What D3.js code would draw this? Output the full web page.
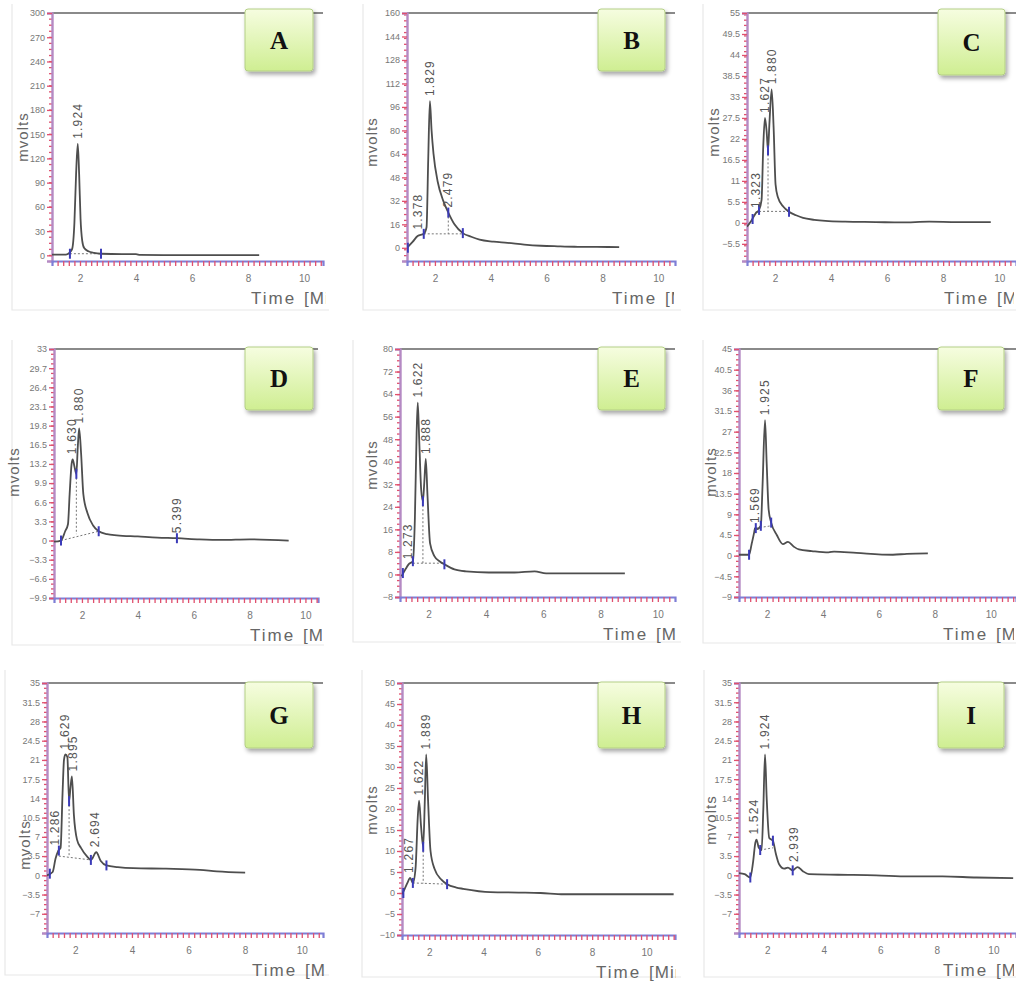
<!DOCTYPE html>
<html>
<head>
<meta charset="utf-8">
<script src="https://cdn.jsdelivr.net/npm/d3@7"></script>
<style>
  body { margin: 0; background: #fff; }
  svg { display: block; }
  .tick text { font-family: "Liberation Sans Narrow", "Liberation Sans", Arial, sans-serif; fill: #777; }
  .ylab { font-family: "Liberation Sans", Arial, sans-serif; fill: #666; }
  .peak-label { font-family: "Liberation Sans Narrow", "Liberation Sans", Arial, sans-serif; fill: #555; }
  .letter { font-family: "Liberation Serif", "DejaVu Serif", serif; font-weight: bold; fill: #111; }
</style>
</head>
<body>
<div id="chart"></div>
<script>
// Nine HPLC chromatograms (A-I), mvolts vs time

const panelNames = ["A", "B", "C", "D", "E", "F", "G", "H", "I"];

// y tick labels of each panel
const yTicksA = [0, 30, 60, 90, 120, 150, 180, 210, 240, 270, 300];
const yTicksB = [0, 16, 32, 48, 64, 80, 96, 112, 128, 144, 160];
const yTicksC = [-5.5, 0, 5.5, 11, 16.5, 22, 27.5, 33, 38.5, 44, 49.5, 55];
const yTicksD = [-9.9, -6.6, -3.3, 0, 3.3, 6.6, 9.9, 13.2, 16.5, 19.8, 23.1, 26.4, 29.7, 33];
const yTicksE = [-8, 0, 8, 16, 24, 32, 40, 48, 56, 64, 72, 80];
const yTicksF = [-9, -4.5, 0, 4.5, 9, 13.5, 18, 22.5, 27, 31.5, 36, 40.5, 45];
const yTicksG = [-7, -3.5, 0, 3.5, 7, 10.5, 14, 17.5, 21, 24.5, 28, 31.5, 35];
const yTicksH = [-10, -5, 0, 5, 10, 15, 20, 25, 30, 35, 40, 45, 50];
const yTicksI = [-7, -3.5, 0, 3.5, 7, 10.5, 14, 17.5, 21, 24.5, 28, 31.5, 35];
const xTicks = [2, 4, 6, 8, 10];

// y ranges (min, max) in mvolts
const yRanges = [[-7, 300], [-9, 160], [-10, 55], [-9.9, 33], [-8, 80], [-9, 45], [-10.5, 35], [-10, 50], [-10.5, 35]];

// traces: [time (min), mvolts]
const traceA = [[1.0, 1], [1.5, 1], [1.62, 3], [1.72, 8], [1.8, 40], [1.86, 100], [1.92, 138], [1.97, 100], [2.02, 45], [2.08, 18], [2.15, 9], [2.3, 5], [2.5, 3], [2.75, 2], [3.5, 1.5], [4.0, 1.5], [4.15, 0.5], [5.0, 0.3], [8.4, 0.3]];
const traceB = [[1.0, 0], [1.2, 4], [1.38, 8], [1.6, 9.5], [1.7, 14], [1.76, 60], [1.82, 100], [1.88, 80], [1.95, 64], [2.1, 45], [2.3, 32], [2.48, 24], [2.7, 16], [3.0, 10], [3.3, 7.5], [3.6, 5.5], [4.1, 4.2], [4.6, 3.4], [5.2, 2.2], [5.8, 1.4], [6.4, 1.0], [7.0, 0.7], [7.8, 0.6], [8.6, 0.5]];
const traceC = [[1.0, -1], [1.15, 0.5], [1.32, 2.6], [1.43, 3.4], [1.52, 6], [1.58, 20], [1.64, 27.5], [1.7, 24], [1.75, 19], [1.8, 26], [1.88, 35], [1.95, 25], [2.02, 10], [2.1, 6.8], [2.3, 4.2], [2.5, 2.9], [2.75, 2], [3.0, 1.3], [3.4, 0.8], [3.8, 0.5], [4.5, 0.3], [5.6, 0.2], [6.5, 0.1], [7.5, 0.3], [8.5, 0.2], [9.7, 0.2]];
const traceD = [[1.0, -0.2], [1.25, 0], [1.4, 1.6], [1.5, 2.8], [1.56, 8], [1.63, 13.2], [1.67, 14], [1.73, 12.8], [1.8, 11.5], [1.85, 16], [1.9, 19.3], [1.97, 15], [2.05, 8], [2.2, 4.7], [2.4, 2.6], [2.6, 1.6], [2.9, 1.1], [3.25, 0.9], [4.0, 0.7], [4.7, 0.5], [5.4, 0.4], [6.2, 0.2], [7.0, 0.1], [8.0, 0.2], [9.4, 0]];
const traceE = [[1.05, -0.7], [1.2, 2], [1.3, 3.6], [1.45, 4.7], [1.52, 20], [1.58, 50], [1.62, 61], [1.67, 48], [1.74, 30], [1.8, 26], [1.85, 33], [1.9, 41], [1.96, 28], [2.05, 11], [2.2, 6.5], [2.4, 4.5], [2.55, 3.6], [2.9, 1.8], [3.3, 1.1], [4.1, 0.7], [5.0, 0.7], [5.7, 1.1], [6.1, 0.4], [7.5, 0.4], [8.85, 0.4]];
const traceF = [[1.0, 0.2], [1.36, 0.2], [1.45, 2.5], [1.54, 5], [1.57, 6], [1.65, 5.8], [1.78, 6.5], [1.84, 15], [1.93, 29.5], [1.99, 20], [2.06, 10], [2.15, 7.2], [2.35, 4.5], [2.57, 2.5], [2.75, 3], [2.95, 2], [3.14, 1.35], [3.6, 1.0], [4.2, 0.7], [4.4, 0.9], [5.2, 0.6], [6.5, 0.2], [7.0, 0.4], [7.75, 0.5]];
const traceG = [[1.0, 0], [1.2, 0.6], [1.3, 3], [1.4, 4.5], [1.48, 5], [1.55, 15], [1.6, 21], [1.65, 22], [1.72, 21.5], [1.78, 13.5], [1.83, 16], [1.88, 18], [1.95, 11], [2.06, 6.5], [2.2, 5], [2.42, 3.4], [2.55, 2.8], [2.74, 4.2], [2.9, 2.6], [3.1, 1.8], [3.5, 1.5], [4.05, 1.3], [5.2, 1.2], [6.4, 1.0], [7.0, 0.7], [8.0, 0.5]];
const traceH = [[1.0, -0.3], [1.1, 1], [1.2, 2.4], [1.3, 3.6], [1.4, 2.4], [1.5, 6], [1.58, 18], [1.63, 22], [1.7, 16], [1.78, 11], [1.84, 22], [1.89, 33], [1.96, 22], [2.05, 10], [2.2, 5.7], [2.45, 3.2], [2.66, 2.1], [3.0, 1.3], [3.25, 1], [4.25, 0.2], [5.3, 0.1], [6.1, 0], [6.95, -0.3], [8.5, -0.3], [11.0, -0.3]];
const traceI = [[1.0, 0.4], [1.2, 0.2], [1.4, -0.4], [1.5, 2.5], [1.58, 6], [1.62, 6.5], [1.7, 5], [1.8, 4.6], [1.86, 12], [1.92, 22], [1.98, 14], [2.07, 6.8], [2.2, 6.3], [2.3, 4], [2.42, 2], [2.6, 1.2], [2.73, 1.4], [2.9, 0.9], [3.07, 1.5], [3.25, 0.8], [3.47, 0.2], [4.5, 0.1], [5.85, 0], [7.0, -0.2], [8.2, -0.2], [9.4, -0.4], [10.7, -0.5]];

// peak labels: [time, apex mvolts, label]
const peaksA = [[1.924, 138, "1.924"]];
const peaksB = [[1.378, 9, "1.378"], [1.829, 100, "1.829"], [2.479, 24, "2.479"]];
const peaksC = [[1.323, 2.6, "1.323"], [1.627, 27.5, "1.627"], [1.88, 35, "1.880"]];
const peaksD = [[1.63, 14, "1.630"], [1.88, 19.3, "1.880"], [5.399, 0.4, "5.399"]];
const peaksE = [[1.273, 3.6, "1.273"], [1.622, 61, "1.622"], [1.888, 41, "1.888"]];
const peaksF = [[1.569, 6, "1.569"], [1.925, 29.5, "1.925"]];
const peaksG = [[1.286, 4.5, "1.286"], [1.629, 22, "1.629"], [1.895, 18, "1.895"], [2.694, 4.2, "2.694"]];
const peaksH = [[1.267, 3.6, "1.267"], [1.622, 22, "1.622"], [1.889, 33, "1.889"]];
const peaksI = [[1.524, 6.5, "1.524"], [1.924, 22, "1.924"], [2.939, 1.5, "2.939"]];

// integration events (blue marks): [time, mvolts]
const eventsA = [[1.64, 2], [2.75, 2]];
const eventsB = [[1.03, 0], [1.6, 9.5], [2.48, 24], [3.0, 10]];
const eventsC = [[1.2, 1], [1.43, 3.4], [1.75, 19], [2.5, 2.9]];
const eventsD = [[1.25, 0], [1.8, 11.5], [2.6, 1.6], [5.4, 0.4]];
const eventsE = [[1.1, 0.5], [1.45, 4.7], [1.8, 26], [2.55, 3.6]];
const eventsF = [[1.36, 0.2], [1.6, 6], [1.78, 6.5], [2.15, 7.2]];
const eventsG = [[1.1, 0.3], [1.42, 4.5], [1.78, 13.5], [2.55, 2.8], [3.1, 1.8]];
const eventsH = [[1.05, 0], [1.4, 2.4], [1.78, 11], [2.66, 2.1]];
const eventsI = [[1.4, -0.4], [1.75, 4.6], [2.2, 6.3], [2.9, 0.9]];

// dotted baselines: [t1, v1, t2, v2]
const baselinesA = [[1.64, 2, 2.75, 2]];
const baselinesB = [[1.6, 9.5, 3.0, 9.5]];
const baselinesC = [[1.43, 3, 2.5, 3]];
const baselinesD = [[1.25, 0, 2.6, 1.6]];
const baselinesE = [[1.45, 4, 2.55, 4]];
const baselinesF = [[1.6, 6, 2.15, 6.5]];
const baselinesG = [[1.42, 3.5, 2.55, 2.8]];
const baselinesH = [[1.4, 2.4, 2.66, 2.1]];
const baselinesI = [[1.75, 4.6, 2.2, 5]];

// dotted drop lines: [time, top mvolts, bottom mvolts]
const dropsA = [];
const dropsB = [[2.479, 24, 9.5]];
const dropsC = [[1.75, 19, 3]];
const dropsD = [[1.8, 11.5, 1.1]];
const dropsE = [[1.8, 26, 4]];
const dropsF = [];
const dropsG = [[1.78, 13.5, 3.3]];
const dropsH = [[1.78, 11, 2.3]];
const dropsI = [];

const traces = [traceA, traceB, traceC, traceD, traceE, traceF, traceG, traceH, traceI];
const peaks = [peaksA, peaksB, peaksC, peaksD, peaksE, peaksF, peaksG, peaksH, peaksI];
const events = [eventsA, eventsB, eventsC, eventsD, eventsE, eventsF, eventsG, eventsH, eventsI];
const baselines = [baselinesA, baselinesB, baselinesC, baselinesD, baselinesE, baselinesF, baselinesG, baselinesH, baselinesI];
const drops = [dropsA, dropsB, dropsC, dropsD, dropsE, dropsF, dropsG, dropsH, dropsI];
const yTicks = [yTicksA, yTicksB, yTicksC, yTicksD, yTicksE, yTicksF, yTicksG, yTicksH, yTicksI];

// panel layout (pixels): plot area, frame (left edge, top, bottom), label box, axis-title spots
const layout = [
  { left: 52, top: 13, right: 323, bottom: 261, xMax: 10.68, frame: [12, 4, 310], box: [245, 9, 68, 62], ylab: [23, 137], timeX: 251, clipR: 326 },
  { left: 407, top: 13, right: 675, bottom: 261, xMax: 10.6, frame: [363, 4, 310], box: [598, 9, 67, 62], ylab: [372, 142], timeX: 612, clipR: 674 },
  { left: 747, top: 13, right: 1016, bottom: 261, xMax: 10.6, frame: [703, 4, 310], box: [938, 9, 67, 66], ylab: [714, 132], timeX: 944, clipR: 1014 },
  { left: 54, top: 349, right: 318, bottom: 598, xMax: 10.45, frame: [12, 340, 645], box: [245, 347, 68, 63], ylab: [14, 472], timeX: 250, clipR: 322 },
  { left: 400, top: 349, right: 675, bottom: 597, xMax: 10.6, frame: [353, 340, 642], box: [598, 347, 67, 63], ylab: [372, 465], timeX: 603, clipR: 677 },
  { left: 739, top: 349, right: 1016, bottom: 597, xMax: 10.9, frame: [703, 340, 643], box: [938, 347, 66, 63], ylab: [711, 472], timeX: 943, clipR: 1014 },
  { left: 47, top: 683, right: 323, bottom: 933, xMax: 10.75, frame: [5, 670, 975], box: [245, 682, 68, 66], ylab: [25, 845], timeX: 252, clipR: 325 },
  { left: 402, top: 683, right: 675, bottom: 935, xMax: 11.05, frame: [362, 670, 977], box: [598, 682, 67, 66], ylab: [372, 810], timeX: 596, clipR: 676 },
  { left: 739, top: 683, right: 1016, bottom: 933, xMax: 10.8, frame: [704, 670, 977], box: [938, 682, 66, 66], ylab: [711, 820], timeX: 943, clipR: 1014 }
];

const width = 1016;
const height = 981;

const svg = d3.select("#chart")
  .append("svg")
  .attr("width", width)
  .attr("height", height);

const defs = svg.append("defs");

// green label-box gradient and shadow
const grad = defs.append("linearGradient")
  .attr("id", "boxGrad")
  .attr("x1", 0).attr("y1", 0).attr("x2", 0).attr("y2", 1);
grad.append("stop").attr("offset", "0%").attr("stop-color", "#f6fde0");
grad.append("stop").attr("offset", "100%").attr("stop-color", "#cfee92");

const shadow = defs.append("filter")
  .attr("id", "shadow")
  .attr("x", "-20%").attr("y", "-20%").attr("width", "150%").attr("height", "150%");
shadow.append("feDropShadow")
  .attr("dx", 2).attr("dy", 3).attr("stdDeviation", 2)
  .attr("flood-color", "#000").attr("flood-opacity", 0.35);

panelNames.forEach((name, i) => {
  const L = layout[i];
  const g = svg.append("g").attr("class", "panel-" + name);

  const x = d3.scaleLinear()
    .domain([1, L.xMax])
    .range([L.left, L.right]);

  const y = d3.scaleLinear()
    .domain(yRanges[i])
    .range([L.bottom, L.top]);

  // clip for plot area
  defs.append("clipPath")
    .attr("id", "clip" + name)
    .append("rect")
    .attr("x", L.left)
    .attr("y", L.top)
    .attr("width", width - L.left)
    .attr("height", L.bottom - L.top);

  defs.append("clipPath")
    .attr("id", "tclip" + name)
    .append("rect")
    .attr("x", L.left)
    .attr("y", L.bottom)
    .attr("width", L.clipR - L.left)
    .attr("height", 60);

  // faint frame: left and bottom edges only
  g.append("path")
    .attr("d", `M${L.frame[0]},${L.frame[1]}V${L.frame[2]}H${L.right + 6}`)
    .attr("fill", "none")
    .attr("stroke", "#e8e8e8")
    .attr("stroke-width", 1.2);

  // top border line
  g.append("line")
    .attr("x1", L.left).attr("x2", L.right)
    .attr("y1", L.top).attr("y2", L.top)
    .attr("stroke", "#8a8a8a")
    .attr("stroke-width", 2);

  // y axis: minor ticks
  const yStep = yTicks[i][1] - yTicks[i][0];
  const yMinor = d3.range(yRanges[i][0], yRanges[i][1] + 1e-9, yStep / 4);
  g.append("g")
    .attr("transform", `translate(${L.left},0)`)
    .call(d3.axisLeft(y).tickValues(yMinor).tickSize(3).tickFormat(""))
    .call(a => a.select(".domain").remove())
    .call(a => a.selectAll(".tick line").attr("stroke", "#e0506e").attr("stroke-width", 1.3));

  // y axis: labels
  g.append("g")
    .attr("transform", `translate(${L.left},0)`)
    .call(d3.axisLeft(y).tickValues(yTicks[i]).tickSize(5).tickPadding(2).tickFormat(d3.format("~g")))
    .call(a => a.select(".domain").attr("stroke", "#b58ac4").attr("stroke-width", 2.4))
    .call(a => a.selectAll(".tick line").attr("stroke", "#e0506e").attr("stroke-width", 1.3))
    .call(a => a.selectAll(".tick text").attr("font-size", 9));

  // x axis: minor ticks
  const xMinor = d3.range(1.2, L.xMax, 0.2);
  g.append("g")
    .attr("transform", `translate(0,${L.bottom})`)
    .call(d3.axisBottom(x).tickValues(xMinor).tickSize(5).tickFormat(""))
    .call(a => a.select(".domain").attr("stroke", "#7e7ed6").attr("stroke-width", 2.2))
    .call(a => a.selectAll(".tick line").attr("stroke", "#e0506e").attr("stroke-width", 1.3));

  // x axis: labels
  g.append("g")
    .attr("transform", `translate(0,${L.bottom})`)
    .call(d3.axisBottom(x).tickValues(xTicks).tickSize(0).tickPadding(14))
    .call(a => a.select(".domain").remove())
    .call(a => a.selectAll(".tick text").attr("font-size", 10));

  // axis titles
  g.append("text")
    .attr("class", "ylab")
    .attr("transform", `translate(${L.ylab[0]},${L.ylab[1]}) rotate(-90)`)
    .attr("text-anchor", "middle")
    .attr("dy", "0.35em")
    .attr("font-size", 15)
    .attr("letter-spacing", 1)
    .text("mvolts");

  const tg = g.append("g").attr("clip-path", `url(#tclip${name})`);
  tg.append("text")
    .attr("class", "ylab")
    .attr("x", L.timeX)
    .attr("y", L.bottom + 43)
    .attr("font-size", 17)
    .attr("letter-spacing", 2)
    .text("Time");
  tg.append("text")
    .attr("class", "ylab")
    .attr("x", L.timeX + 53)
    .attr("y", L.bottom + 43)
    .attr("font-size", 17)
    .attr("letter-spacing", 1)
    .text("[Min]");

  const plot = g.append("g").attr("clip-path", `url(#clip${name})`);

  // dotted baselines
  plot.selectAll(".base")
    .data(baselines[i])
    .enter()
    .append("line")
    .attr("x1", d => x(d[0])).attr("y1", d => y(d[1]))
    .attr("x2", d => x(d[2])).attr("y2", d => y(d[3]))
    .attr("stroke", "#777")
    .attr("stroke-width", 1)
    .attr("stroke-dasharray", "2,2");

  plot.selectAll(".drop")
    .data(drops[i])
    .enter()
    .append("line")
    .attr("x1", d => x(d[0])).attr("x2", d => x(d[0]))
    .attr("y1", d => y(d[1])).attr("y2", d => y(d[2]))
    .attr("stroke", "#777")
    .attr("stroke-width", 1)
    .attr("stroke-dasharray", "2,2");

  // trace
  const line = d3.line()
    .x(d => x(d[0]))
    .y(d => y(d[1]))
    .curve(d3.curveMonotoneX);

  plot.append("path")
    .datum(traces[i])
    .attr("fill", "none")
    .attr("stroke", "#4e4e4e")
    .attr("stroke-width", 1.8)
    .attr("stroke-linejoin", "round")
    .attr("d", line);

  // integration event marks
  plot.selectAll(".ev")
    .data(events[i])
    .enter()
    .append("line")
    .attr("x1", d => x(d[0])).attr("x2", d => x(d[0]))
    .attr("y1", d => y(d[1]) - 5).attr("y2", d => y(d[1]) + 5)
    .attr("stroke", "#3b3bb8")
    .attr("stroke-width", 2);

  // peak labels
  g.selectAll(".peak-label")
    .data(peaks[i])
    .enter()
    .append("text")
    .attr("class", "peak-label")
    .attr("transform", d => `translate(${x(d[0])},${y(d[1]) - 5}) rotate(-90)`)
    .attr("dy", "0.35em")
    .attr("font-size", 12)
    .attr("letter-spacing", 1.2)
    .text(d => d[2]);

  // letter box
  g.append("rect")
    .attr("x", L.box[0])
    .attr("y", L.box[1])
    .attr("width", L.box[2])
    .attr("height", L.box[3])
    .attr("rx", 3)
    .attr("fill", "url(#boxGrad)")
    .attr("stroke", "#b4cf86")
    .attr("stroke-width", 1)
    .attr("filter", "url(#shadow)");

  g.append("text")
    .attr("class", "letter")
    .attr("x", L.box[0] + L.box[2] / 2)
    .attr("y", L.box[1] + L.box[3] / 2)
    .attr("text-anchor", "middle")
    .attr("dy", "0.35em")
    .attr("font-size", 25)
    .text(name);
});
</script>
</body>
</html>
